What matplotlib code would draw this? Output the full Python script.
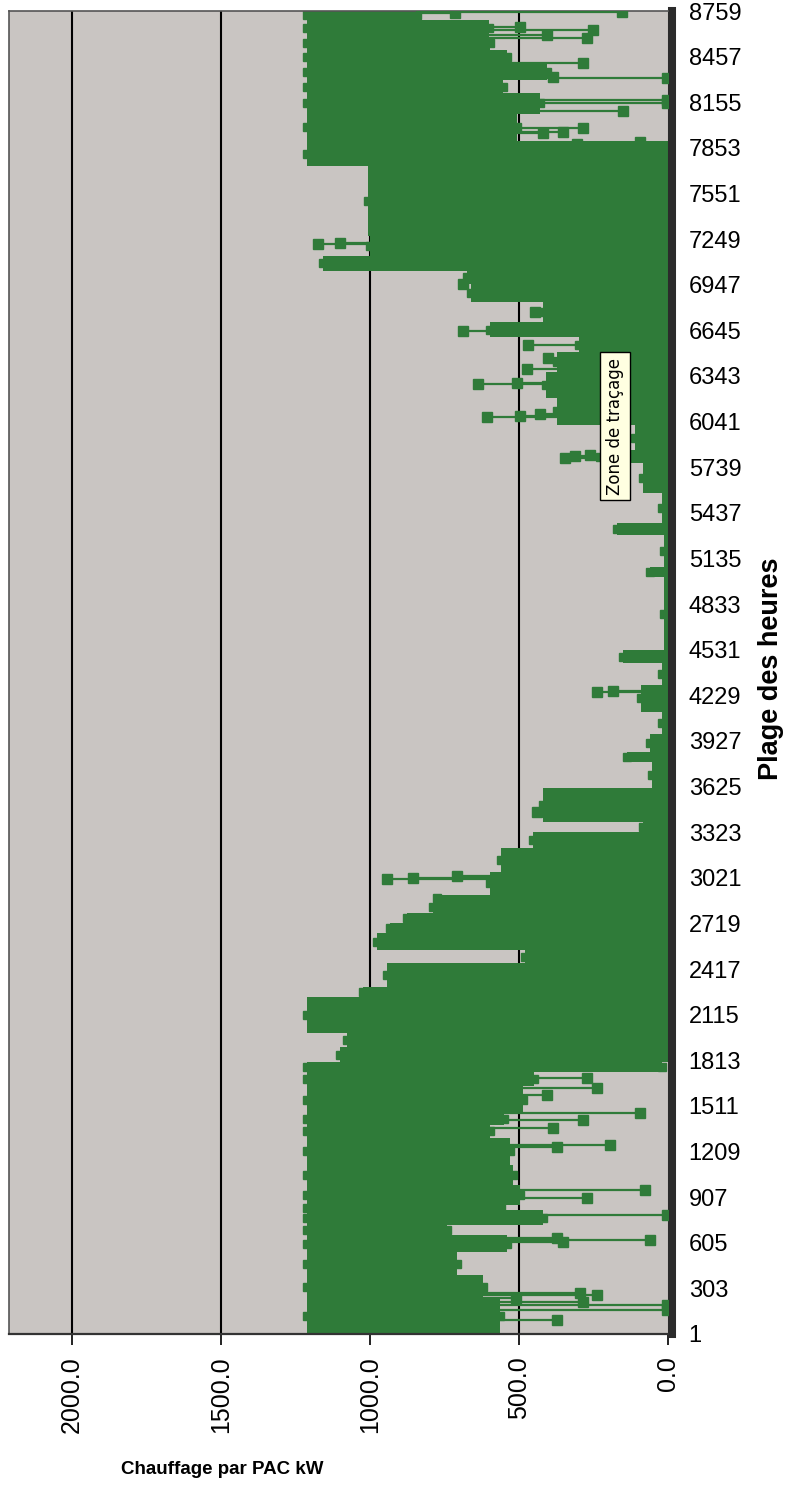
import matplotlib
matplotlib.use("Agg")
import matplotlib.pyplot as plt
import numpy as np

# Hourly heat-pump heating load over the year, summarised as spans:
# first hour of each span, highest and lowest load reached in it (kW)
span_start = [1, 240, 390, 545, 655, 720, 820, 855, 990, 1120, 1300, 1385,
              1465, 1640, 1735, 1800, 1900, 1995, 2230, 2295, 2455, 2540,
              2655, 2720, 2785, 2870, 2910, 3060, 3220, 3325, 3390, 3615,
              3790, 3855, 3970, 4120, 4300, 4440, 4530, 5010, 5080, 5290,
              5370, 5565, 5765, 5850, 6020, 6200, 6370, 6500, 6600, 6700,
              6835, 6950, 7040, 7140, 7270, 7730, 7900, 8080, 8215, 8300,
              8415, 8500, 8590, 8700]
span_peak_kw = [1211, 1211, 1211, 1211, 1211, 1211, 1211, 1211, 1211, 1211, 1211, 1211,
                1211, 1211, 1211, 1100, 1077, 1211, 1023, 943, 480, 977,
                933, 876, 788, 775, 597, 560, 453, 85, 420, 55,
                138, 60, 20, 90, 20, 150, 15, 60, 15, 171,
                20, 84, 228, 110, 372, 410, 372, 300, 597, 420,
                660, 674, 1157, 1000, 1007, 1211, 1211, 1211, 1211, 1211,
                1211, 1211, 1211, 1211]
span_base_kw = [564, 620, 708, 540, 742, 420, 560, 497, 520, 530, 597, 550,
                487, 450, 20, 0, 0, 0, 0, 0, 0, 0,
                0, 0, 0, 0, 0, 0, 0, 0, 0, 0,
                0, 0, 0, 0, 0, 0, 0, 0, 0, 0,
                0, 0, 0, 0, 0, 0, 0, 0, 0, 0,
                0, 0, 0, 0, 0, 0, 507, 430, 554, 406,
                540, 597, 600, 842]
last_hour = 8759

# Isolated hours lying outside their span, drawn with square markers
spike_hours = [93, 160, 190, 213, 240, 260, 275, 610, 623, 635, 790, 900, 955,
               1240, 1250, 1365, 1418, 1463, 1583, 1630, 1695,
               3010, 3020, 3030, 3457, 4250, 4256,
               5800, 5810, 5820, 6072, 6080, 6090, 6290, 6295, 6390, 6460,
               6548, 6640, 6766, 6952, 7217, 7225,
               7880, 7890, 7950, 7960, 7985, 8100, 8150, 8170, 8315, 8320,
               8415, 8580, 8600, 8633, 8653, 8748, 8752]
spike_kw = [372, 3, 3, 285, 510, 238, 295, 352, 60, 372, 3, 272, 77,
            372, 195, 386, 285, 94, 406, 238, 272,
            943, 856, 708, 440, 238, 185,
            345, 312, 262, 607, 497, 430, 638, 507, 473, 403,
            470, 688, 446, 688, 1174, 1100,
            305, 94, 420, 352, 285, 150, 3, 3, 3, 386,
            285, 272, 406, 252, 497, 715, 155]

hour_ticks = list(range(1, 8760, 302))
kw_ticks = [0, 500, 1000, 1500, 2000]

GREEN = "#2f7b39"
PLOT_BG = "#c9c5c2"
FONT = "Liberation Sans"

W, H = 795, 1492
fig = plt.figure(figsize=(W / 100, H / 100), dpi=100)
fig.patch.set_facecolor("white")


def fx(px):
    return px / W


def fy(py):
    return 1 - py / H


left_px, right_px, top_px, bottom_px = 9, 668, 11, 1334
ax = fig.add_axes([fx(left_px), fy(bottom_px),
                   fx(right_px) - fx(left_px), fy(top_px) - fy(bottom_px)])
ax.set_facecolor(PLOT_BG)
ax.set_xlim(2210, 0)
ax.set_ylim(1, last_hour)

# gridlines across the load axis
for v in kw_ticks[1:]:
    ax.axvline(v, color="black", lw=1.5, zorder=1)

# load envelope, span by span
edges = np.array(span_start + [last_hour])
peak = np.array(span_peak_kw + [span_peak_kw[-1]])
base = np.array(span_base_kw + [span_base_kw[-1]])
ax.fill_betweenx(edges, base, peak, step="post", color=GREEN, lw=0, zorder=2)

# square markers on the span ends, as the line chart draws them
mid = (edges[:-1] + edges[1:]) / 2
ax.plot(span_peak_kw, mid, "s", ms=6, color=GREEN, zorder=2)
ax.plot(span_base_kw, mid, "s", ms=6, color=GREEN, zorder=2)

# isolated hours: connector from the envelope plus a square marker
s_idx = np.searchsorted(span_start, spike_hours, side="right") - 1
for h, v, i in zip(spike_hours, spike_kw, s_idx):
    hi, lo = span_peak_kw[i], span_base_kw[i]
    anchor = hi if v > hi else (lo if v < lo else None)
    if anchor is not None:
        ax.plot([anchor, v], [h, h], color=GREEN, lw=1.6, zorder=3)
ax.plot(spike_kw, spike_hours, "s", ms=7, color=GREEN, zorder=3)

# axes frame
for side in ("top", "bottom", "left"):
    ax.spines[side].set_color("#555555")
    ax.spines[side].set_linewidth(1.2)
ax.spines["right"].set_color("#2b2b2b")
ax.spines["right"].set_linewidth(5.8)
ax.spines["right"].set_position(("outward", 2.9))
ax.spines["bottom"].set_linewidth(1.6)
ax.spines["bottom"].set_color("#333333")

ax.set_xticks(kw_ticks)
ax.set_xticklabels([f"{v:.1f}" for v in kw_ticks], rotation=90,
                   fontsize=18, family=FONT)
ax.tick_params(axis="x", direction="out", length=8, width=1.4, pad=8,
               color="#222222")

ax.yaxis.tick_right()
ax.set_yticks(hour_ticks)
ax.set_yticklabels([str(h) for h in hour_ticks], fontsize=17, family=FONT)
ax.tick_params(axis="y", length=0, pad=12)

fig.text(fx(222), fy(1470), "Chauffage par PAC kW", ha="center", va="center",
         fontsize=13.5, fontweight="bold", family=FONT)
fig.text(fx(771), fy(669), "Plage des heures", ha="center", va="center",
         rotation=90, fontsize=19.5, fontweight="bold", family=FONT)

fig.text(fx(615), fy(426), "Zone de traçage", ha="center", va="center",
         rotation=90, fontsize=12, family="DejaVu Sans",
         bbox=dict(boxstyle="square,pad=0.35", facecolor="#ffffe1",
                   edgecolor="black", lw=1.0), zorder=10)

fig.savefig("out.png", dpi=100)
